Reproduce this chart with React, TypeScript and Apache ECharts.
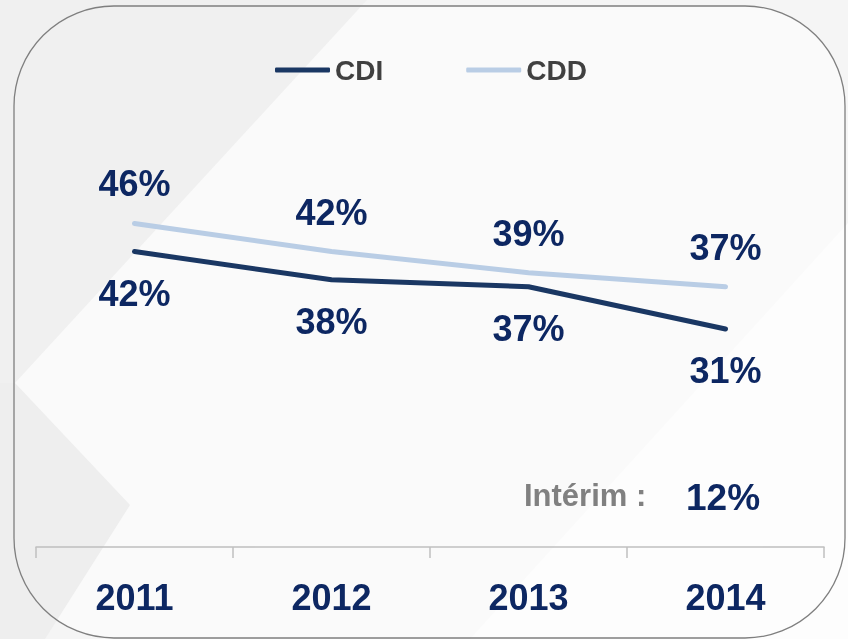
import React, { useEffect, useRef } from "react";
import * as echarts from "echarts";

const years = ["2011", "2012", "2013", "2014"];
const cdiValues = [42, 38, 37, 31];
const cddValues = [46, 42, 39, 37];
const seriesNames = ["CDI", "CDD"];
const interimLabel = "Intérim :";
const interimValue = "12%";

const NAVY = "#0d2762";
const CDI_COLOR = "#1a3763";
const CDD_COLOR = "#b9cde5";
const FONT = "'Liberation Sans', Arial, sans-serif";

export default function App() {
  const ref = useRef<HTMLDivElement>(null);

  useEffect(() => {
    if (!ref.current) return;
    const chart = echarts.init(ref.current, undefined, { renderer: "svg" });
    const labelStyle = {
      show: true,
      formatter: (p: any) => p.value + "%",
      color: NAVY,
      fontFamily: FONT,
      fontWeight: "bold" as const,
      fontSize: 36,
    };
    chart.setOption({
      animation: false,
      backgroundColor: "transparent",
      graphic: [
        { type: "rect", z: -10, shape: { x: 0, y: 0, width: 848, height: 639 }, style: { fill: "#f5f5f5" }, silent: true },
        { type: "rect", z: -9, shape: { x: 14, y: 6, width: 831, height: 632, r: 100 }, style: { fill: "#fafafa" }, silent: true },
        { type: "polygon", z: -8, shape: { points: [[0, 0], [367, 0], [15, 383], [0, 383]] }, style: { fill: "#f0f0f0" }, silent: true },
        { type: "polygon", z: -8, shape: { points: [[0, 383], [15, 383], [130, 505], [45, 639], [0, 639]] }, style: { fill: "#eeeeee" }, silent: true },
        { type: "polygon", z: -8, shape: { points: [[848, 223], [848, 639], [470, 639]] }, style: { fill: "#fdfdfd" }, silent: true },
        { type: "rect", z: -7, shape: { x: 14, y: 6, width: 831, height: 632, r: 100 }, style: { fill: "none", stroke: "#7f7f7f", lineWidth: 1.3 }, silent: true },
        {
          type: "text", z: 5, left: 524, top: 480,
          style: { text: interimLabel, fill: "#808080", font: `bold 31px ${FONT}` },
        },
        {
          type: "text", z: 5, left: 686, top: 479,
          style: { text: interimValue, fill: NAVY, font: `bold 37px ${FONT}` },
        },
      ],
      legend: {
        data: seriesNames,
        left: 275,
        top: 56,
        padding: 0,
        icon: "roundRect",
        itemWidth: 55,
        itemHeight: 5,
        itemGap: 83,
        textStyle: { color: "#404040", fontFamily: FONT, fontWeight: "bold", fontSize: 28 },
      },
      grid: { left: 36, right: 24, top: 125, bottom: 85 },
      xAxis: {
        type: "category",
        data: years,
        boundaryGap: true,
        axisLine: { lineStyle: { color: "#bfbfbf", width: 1.5 } },
        axisTick: { show: true, length: 11, lineStyle: { color: "#bfbfbf", width: 1.5 } },
        axisLabel: { color: NAVY, fontFamily: FONT, fontWeight: "bold", fontSize: 36, margin: 25 },
      },
      yAxis: { type: "value", min: -1, max: 60, show: false, splitLine: { show: false } },
      series: [
        {
          name: "CDI",
          type: "line",
          data: cdiValues,
          symbol: "circle",
          symbolSize: 1,
          showSymbol: true,
          itemStyle: { color: CDI_COLOR },
          lineStyle: { color: CDI_COLOR, width: 5, cap: "round" },
          label: { ...labelStyle, position: "bottom", distance: 23 },
          z: 3,
        },
        {
          name: "CDD",
          type: "line",
          data: cddValues,
          symbol: "circle",
          symbolSize: 1,
          showSymbol: true,
          itemStyle: { color: CDD_COLOR },
          lineStyle: { color: CDD_COLOR, width: 5, cap: "round" },
          label: { ...labelStyle, position: "top", distance: 21 },
          z: 2,
        },
      ],
    });
    return () => chart.dispose();
  }, []);

  return (
    <div
      ref={ref}
      style={{ position: "fixed", left: 0, top: 0, width: 848, height: 639 }}
    />
  );
}
